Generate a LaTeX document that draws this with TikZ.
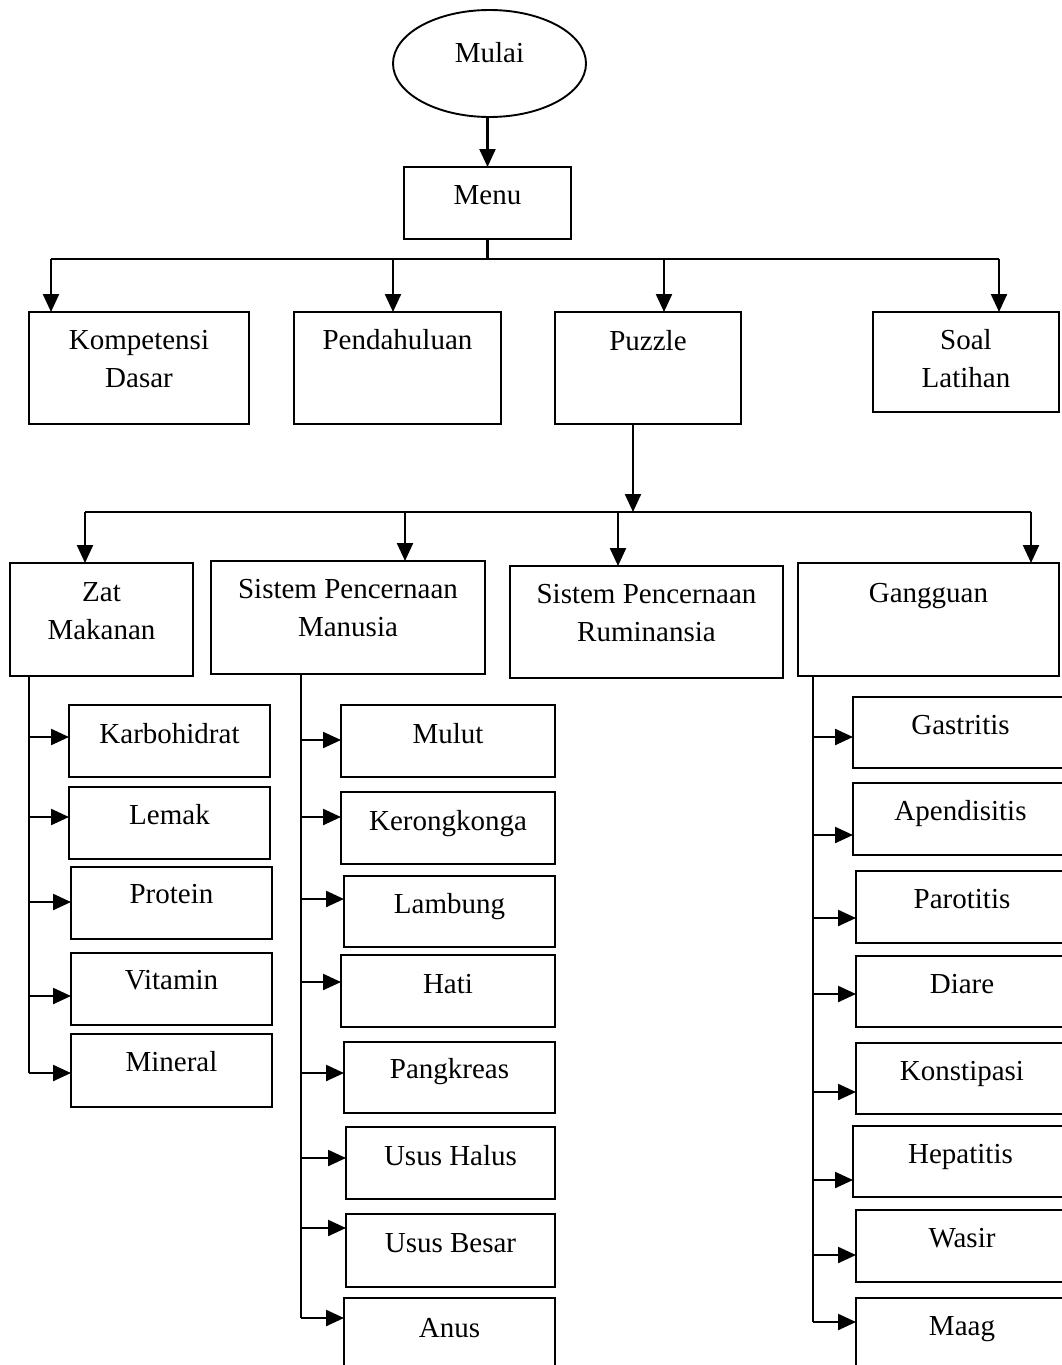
\documentclass[tikz,border=0pt]{standalone}
\usepackage{fontspec}
\setmainfont{Liberation Serif}
\usetikzlibrary{arrows.meta,shapes.geometric}
\newcommand\two[2]{\begin{tabular}[t]{@{}c@{}}#1\\#2\end{tabular}}
\newcommand\bx[7]{%
 \pgfmathsetmacro\mybw{#4-#2}\pgfmathsetmacro\mybh{#5-#3}%
 \pgfmathsetmacro\myth{#6-#3}\pgfmathsetmacro\mytd{#5-#6}%
 \node[box,minimum width=\mybw pt,minimum height=\mybh pt,text height=\myth pt,text depth=\mytd pt,anchor=north west] (#1) at (#2,#3) {#7};}
\tikzset{
 box/.style={draw, line width=1.9pt, inner sep=0pt, outer sep=0pt, font=\fontsize{29}{38}\selectfont},
 conn/.style={line width=2.3pt},
 arr/.style={conn, -{Triangle[length=18pt,width=16pt]}}
}
\begin{document}
\begin{tikzpicture}[x=1pt,y=-1pt]
\useasboundingbox (0,0) rectangle (1062,1365);
\clip (0,0) rectangle (1062,1365);
\fill[white] (0,0) rectangle (1062,1365);
\node[box, ellipse, minimum width=193pt, minimum height=107pt, text height=10pt, text depth=13pt] (mulai) at (489.5,63.5) {Mulai};
\bx{menu}{404}{167}{571}{239}{204}{Menu}
\bx{komp}{29}{312}{249}{424}{349}{\two{Kompetensi}{Dasar}}
\bx{pend}{294}{312}{501}{424}{349}{Pendahuluan}
\bx{puzz}{555}{312}{741}{424}{350}{Puzzle}
\bx{soal}{873}{312}{1059}{412}{349}{\two{Soal}{Latihan}}
\bx{zat}{10}{563}{193}{676}{601}{\two{Zat}{Makanan}}
\bx{spm}{211}{561}{485}{674}{598}{\two{Sistem Pencernaan}{Manusia}}
\bx{spr}{510}{566}{783}{678}{603}{\two{Sistem Pencernaan}{Ruminansia}}
\bx{gang}{798}{563}{1059}{676}{602}{Gangguan}
\bx{karbo}{69}{705}{270}{777}{743}{Karbohidrat}
\bx{lemak}{69}{787}{270}{859}{824}{Lemak}
\bx{prot}{71}{867}{272}{939}{903}{Protein}
\bx{vit}{71}{953}{272}{1025}{989}{Vitamin}
\bx{min}{71}{1034}{272}{1107}{1071}{Mineral}
\bx{mulut}{341}{705}{555}{777}{743}{Mulut}
\bx{kero}{341}{792}{555}{864}{830}{Kerongkonga}
\bx{lamb}{344}{876}{555}{947}{913}{Lambung}
\bx{hati}{341}{955}{555}{1027}{993}{Hati}
\bx{pank}{344}{1042}{555}{1113}{1078}{Pangkreas}
\bx{uh}{346}{1127}{555}{1199}{1165}{Usus Halus}
\bx{ub}{346}{1214}{555}{1287}{1252}{Usus Besar}
\bx{anus}{344}{1298}{555}{1380}{1337}{Anus}
\bx{gast}{853}{697}{1068}{768}{734}{Gastritis}
\bx{apen}{853}{783}{1068}{855}{820}{Apendisitis}
\bx{paro}{856}{871}{1068}{943}{908}{Parotitis}
\bx{diare}{856}{956}{1068}{1027}{993}{Diare}
\bx{kons}{856}{1043}{1068}{1114}{1080}{Konstipasi}
\bx{hepa}{853}{1126}{1068}{1197}{1163}{Hepatitis}
\bx{wasir}{856}{1210}{1068}{1282}{1247}{Wasir}
\bx{maag}{856}{1298}{1068}{1380}{1335}{Maag}
% top
\draw[arr] (menu.north |- mulai.south) -- (menu.north);
\coordinate (j0) at (487.5,259);
\draw[conn] (menu.south) -- (j0);
\coordinate (a1) at (51,259);
\coordinate (a2) at (393,259);
\coordinate (a3) at (664,259);
\coordinate (a4) at (999,259);
\draw[conn] (a1) -- (a4);
\foreach \c/\n in {a1/komp,a2/pend,a3/puzz,a4/soal}
  \draw[arr] (\c) -- (\c |- \n.north);
% puzzle
\coordinate (m0) at (633,512);
\draw[arr] (m0 |- puzz.south) -- (m0);
\coordinate (b1) at (85,512);
\coordinate (b2) at (405,512);
\coordinate (b3) at (618,512);
\coordinate (b4) at (1031,512);
\draw[conn] (b1) -- (b4);
\foreach \c/\n in {b1/zat,b2/spm,b3/spr,b4/gang}
  \draw[arr] (\c) -- (\c |- \n.north);
% left column
\coordinate (lv) at (29,1073);
\draw[conn] (lv |- zat.south) -- (lv);
\foreach \n/\y in {karbo/737,lemak/817,prot/902,vit/996,min/1073}{
  \coordinate (l-\n) at (29,\y);
  \draw[arr] (l-\n) -- (l-\n -| \n.west);}
% middle column
\coordinate (mv) at (301,1318);
\draw[conn] (mv |- spm.south) -- (mv);
\foreach \n/\y in {mulut/740,kero/817,lamb/899,hati/982,pank/1073,uh/1158,ub/1228,anus/1318}{
  \coordinate (c-\n) at (301,\y);
  \draw[arr] (c-\n) -- (c-\n -| \n.west);}
% right column
\coordinate (rv) at (813,1322);
\draw[conn] (rv |- gang.south) -- (rv);
\foreach \n/\y in {gast/737,apen/835,paro/918,diare/994,kons/1092,hepa/1180,wasir/1255,maag/1322}{
  \coordinate (r-\n) at (813,\y);
  \draw[arr] (r-\n) -- (r-\n -| \n.west);}
\end{tikzpicture}
\end{document}
